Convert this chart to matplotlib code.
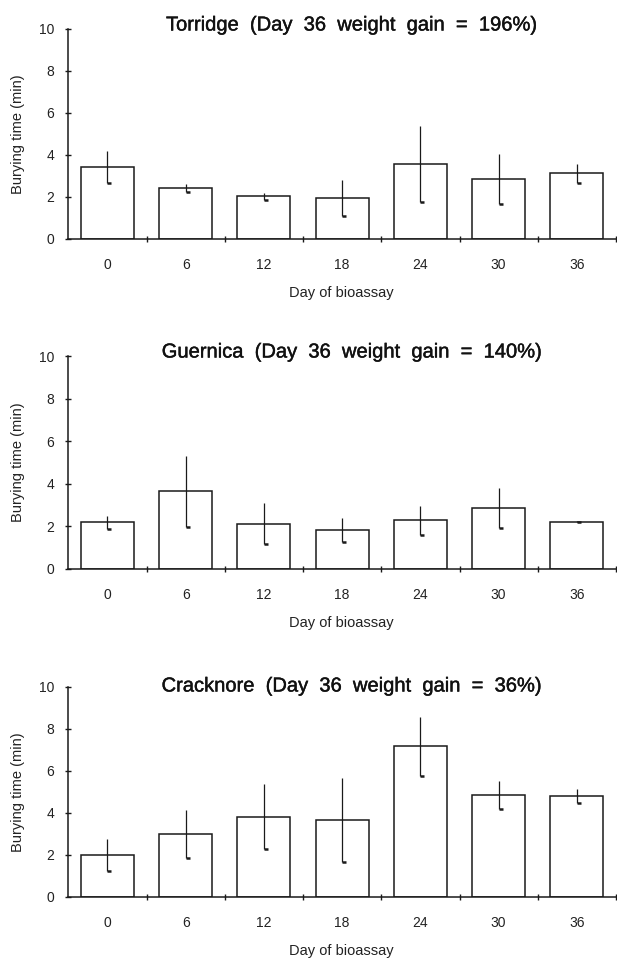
import numpy as np
import matplotlib.pyplot as plt
import matplotlib.patheffects as pe

plt.rcParams['font.family'] = ['Liberation Sans', 'DejaVu Sans']

days = ["0", "6", "12", "18", "24", "30", "36"]

titles = ["Torridge  (Day  36  weight  gain  =  196%)",
          "Guernica  (Day  36  weight  gain  =  140%)",
          "Cracknore  (Day  36  weight  gain  =  36%)"]

torridge_mean = [3.43, 2.43, 2.03, 1.96, 3.56, 2.85, 3.12]
torridge_se = [0.74, 0.17, 0.18, 0.85, 1.80, 1.20, 0.45]

guernica_mean = [2.19, 3.64, 2.12, 1.84, 2.28, 2.86, 2.23]
guernica_se = [0.29, 1.68, 0.96, 0.55, 0.68, 0.93, 0.04]

cracknore_mean = [1.98, 3.00, 3.83, 3.67, 7.18, 4.87, 4.81]
cracknore_se = [0.76, 1.16, 1.53, 2.00, 1.40, 0.66, 0.32]

means = [torridge_mean, guernica_mean, cracknore_mean]
errors = [torridge_se, guernica_se, cracknore_se]

W, H = 617, 958
fig = plt.figure(figsize=(W / 100, H / 100), dpi=100)

# pixel layout: (y of 10, y of 0, title centre y)
boxes = [(29, 239, 25), (356, 569, 352), (687, 897, 686)]
left_px, right_px = 67.5, 616

for k in range(3):
    top, bottom, title_y = boxes[k]
    h = bottom - top
    w = right_px - left_px
    ax = fig.add_axes([left_px / W, 1 - bottom / H, w / W, h / H])
    x = np.arange(len(days))
    m = np.array(means[k])
    e = np.array(errors[k])

    ax.bar(x, m, width=0.68, color='white', edgecolor='#1a1a1a', linewidth=1.1, zorder=2)
    ax.vlines(x, m - e, m + e, color='#1a1a1a', linewidth=0.9, zorder=3)
    ax.hlines(m - e, x, x + 0.05, color='#1a1a1a', linewidth=1.8, zorder=3)

    ax.set_xlim(-0.51, 6.5)
    ax.set_ylim(0, 10)
    ax.spines['top'].set_visible(False)
    ax.spines['right'].set_visible(False)
    ax.spines['left'].set_linewidth(1.1)
    ax.spines['bottom'].set_linewidth(1.1)
    ax.spines['left'].set_color('#1a1a1a')
    ax.spines['bottom'].set_color('#1a1a1a')

    ax.set_yticks(range(0, 11, 2))
    ax.tick_params(axis='y', direction='inout', length=5, width=1.0, pad=7,
                   labelsize=10, labelcolor='#222222', color='#1a1a1a')
    ax.set_xticks(x)
    ax.set_xticklabels(days)
    ax.set_xticks(np.arange(0.5, 6.6, 1.0), minor=True)
    ax.tick_params(axis='x', which='major', length=0, pad=13.5, labelsize=10,
                   labelcolor='#222222')
    ax.tick_params(axis='x', which='minor', direction='inout', length=5, width=1.0,
                   color='#1a1a1a')

    ax.set_ylabel("Burying time (min)", fontsize=10.5, color='#222222', va='center')
    ax.yaxis.set_label_coords((18.5 - left_px) / w, 0.5)
    ax.set_xlabel("Day of bioassay", fontsize=10.5, color='#222222', va='center')
    ax.xaxis.set_label_coords((341 - left_px) / w, -54 / h)

    ax.text((352 - left_px) / w, 1 + (top - title_y) / h, titles[k], transform=ax.transAxes,
            ha='center', va='center', fontsize=14.5, color='#111111',
            path_effects=[pe.withStroke(linewidth=0.3, foreground='#111111')])

fig.savefig("out.png", dpi=100)
